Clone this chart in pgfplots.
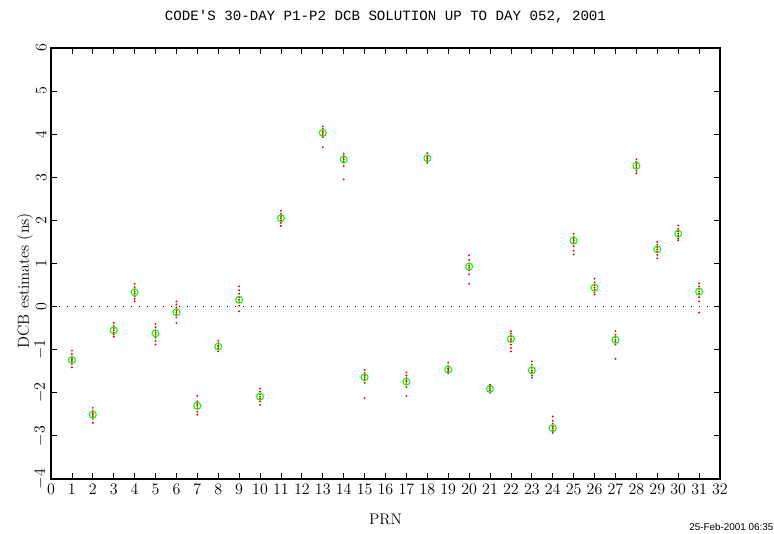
\documentclass[border=0pt]{standalone}
\usepackage{fontspec}
\usepackage{pgfplots}
\pgfplotsset{compat=1.18}
\newfontfamily\titlefont{Liberation Mono}
\newfontfamily\datefont{Liberation Sans}
\definecolor{pgreen}{RGB}{0,255,0}
\definecolor{pred}{RGB}{255,0,0}
\begin{document}
\begin{tikzpicture}
\path[use as bounding box] (-38.25pt,-41.25pt) rectangle (542.25pt,359.25pt);
\begin{axis}[
  scale only axis,
  width=501.75pt, height=323.25pt,
  xmin=0, xmax=32, ymin=-4, ymax=6,
  xtick={0,1,...,32},
  ytick={-4,-3,...,6},
  tick align=inside,
  major tick length=4.5pt,
  every tick/.style={black, line width=0.6pt},
  axis line style={line width=0.8pt},
  tick label style={font=\fontsize{11.5}{13}\selectfont},
  xticklabel style={yshift=-0.5pt},
  yticklabel style={rotate=90, anchor=south, xshift=0pt},
  clip=false,
]
% zero line
\addplot[black, line width=0.8pt, dash pattern=on 0.8pt off 5.2pt] coordinates {(0,0) (32,0)};
% daily estimates
\addplot[only marks, mark=*, mark size=0.5pt, color=pred, mark options={draw=pred, fill=pred}] coordinates {
(1,-1.02) (1,-1.10) (1,-1.16) (1,-1.20) (1,-1.24) (1,-1.28) (1,-1.33) (1,-1.41)
(2,-2.35) (2,-2.42) (2,-2.47) (2,-2.51) (2,-2.55) (2,-2.60) (2,-2.70)
(3,-0.38) (3,-0.45) (3,-0.50) (3,-0.55) (3,-0.60) (3,-0.65) (3,-0.70)
(4,0.53) (4,0.45) (4,0.40) (4,0.35) (4,0.30) (4,0.24) (4,0.18) (4,0.12)
(5,-0.40) (5,-0.48) (5,-0.55) (5,-0.60) (5,-0.65) (5,-0.72) (5,-0.80) (5,-0.88)
(6,0.12) (6,0.05) (6,-0.02) (6,-0.08) (6,-0.13) (6,-0.18) (6,-0.25) (6,-0.38)
(7,-2.07) (7,-2.20) (7,-2.26) (7,-2.30) (7,-2.36) (7,-2.44) (7,-2.51)
(8,-0.79) (8,-0.85) (8,-0.90) (8,-0.93) (8,-0.97) (8,-1.04)
(9,0.47) (9,0.38) (9,0.30) (9,0.22) (9,0.16) (9,0.10) (9,0.02) (9,-0.11)
(10,-1.90) (10,-1.97) (10,-2.03) (10,-2.09) (10,-2.14) (10,-2.20) (10,-2.28)
(11,2.22) (11,2.15) (11,2.10) (11,2.05) (11,2.00) (11,1.94) (11,1.87)
(13,4.18) (13,4.12) (13,4.07) (13,4.03) (13,3.98) (13,3.93) (13,3.70)
(14,3.55) (14,3.50) (14,3.45) (14,3.41) (14,3.36) (14,3.26) (14,2.95)
(15,-1.47) (15,-1.54) (15,-1.60) (15,-1.64) (15,-1.69) (15,-1.77) (15,-2.12)
(17,-1.53) (17,-1.60) (17,-1.66) (17,-1.71) (17,-1.74) (17,-1.80) (17,-1.87) (17,-2.07)
(18,3.56) (18,3.48) (18,3.44) (18,3.40) (18,3.33)
(19,-1.30) (19,-1.38) (19,-1.43) (19,-1.46) (19,-1.50) (19,-1.55)
(20,1.19) (20,1.08) (20,1.00) (20,0.95) (20,0.90) (20,0.84) (20,0.75) (20,0.53)
(21,-1.81) (21,-1.86) (21,-1.91) (21,-1.95) (21,-2.00)
(22,-0.57) (22,-0.63) (22,-0.69) (22,-0.75) (22,-0.80) (22,-0.88) (22,-0.96) (22,-1.04)
(23,-1.27) (23,-1.35) (23,-1.42) (23,-1.48) (23,-1.53) (23,-1.60) (23,-1.65)
(24,-2.55) (24,-2.65) (24,-2.72) (24,-2.78) (24,-2.82) (24,-2.87) (24,-2.93)
(25,1.69) (25,1.62) (25,1.57) (25,1.53) (25,1.48) (25,1.40) (25,1.30) (25,1.21)
(26,0.65) (26,0.56) (26,0.50) (26,0.44) (26,0.39) (26,0.33) (26,0.28)
(27,-0.57) (27,-0.65) (27,-0.71) (27,-0.77) (27,-0.82) (27,-0.88) (27,-1.21)
(28,3.42) (28,3.36) (28,3.31) (28,3.27) (28,3.22) (28,3.15) (28,3.09)
(29,1.50) (29,1.43) (29,1.38) (29,1.33) (29,1.28) (29,1.20) (29,1.12)
(30,1.88) (30,1.80) (30,1.74) (30,1.69) (30,1.64) (30,1.58) (30,1.54)
(31,0.54) (31,0.47) (31,0.41) (31,0.35) (31,0.30) (31,0.22) (31,0.12) (31,-0.14)
};
% 30-day solution
\addplot[only marks, mark=o, mark size=2.6pt, mark options={draw=pgreen, line width=0.8pt}] coordinates {
(1,-1.24) (2,-2.51) (3,-0.55) (4,0.33) (5,-0.62) (6,-0.13) (7,-2.30) (8,-0.93)
(9,0.16) (10,-2.09) (11,2.05) (13,4.03) (14,3.41) (15,-1.64) (17,-1.74) (18,3.44)
(19,-1.46) (20,0.93) (21,-1.91) (22,-0.75) (23,-1.48) (24,-2.82) (25,1.53) (26,0.44)
(27,-0.77) (28,3.27) (29,1.33) (30,1.69) (31,0.35)
};
\node[font=\titlefont\fontsize{10.6}{12}\selectfont] at ([yshift=23.5pt]rel axis cs:0.5,1) {CODE'S 30-DAY P1-P2 DCB SOLUTION UP TO DAY 052, 2001};
\node[font=\fontsize{11.5}{13}\selectfont] at ([yshift=-30pt]rel axis cs:0.5,0) {PRN};
\node[font=\fontsize{12}{14}\selectfont, rotate=90] at ([xshift=-19.5pt]axis cs:0,0.6) {DCB estimates (ns)};
\node[font=\datefont\fontsize{7.4}{8}\selectfont, anchor=east, inner sep=0pt] at ([xshift=40.2pt, yshift=-36pt]rel axis cs:1,0) {25-Feb-2001 06:35};
\end{axis}
\end{tikzpicture}
\end{document}
